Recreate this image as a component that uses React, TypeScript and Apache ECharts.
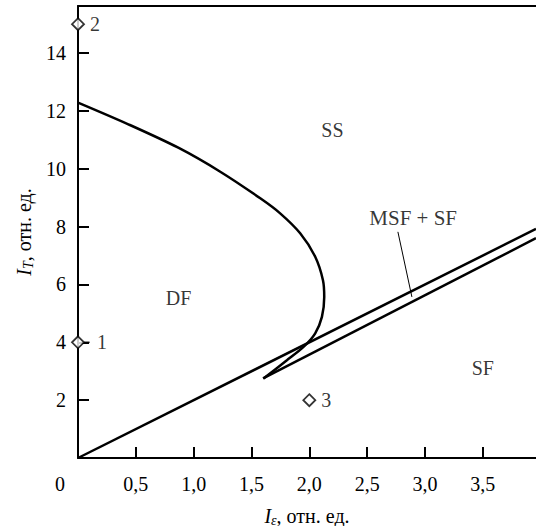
import React, { useEffect, useRef } from 'react';
import * as echarts from 'echarts';

const FONT = 'Liberation Serif, DejaVu Serif, serif';

// boundary curve (DF / SS / SF)
const boundaryCurve: [number, number][] = [
  [0, 12.29], [0.435, 11.54], [0.867, 10.73], [1.23, 9.9], [1.576, 8.98],
  [1.748, 8.46], [1.921, 7.77], [2.051, 6.96], [2.118, 6.15], [2.129, 5.57],
  [2.109, 4.88], [2.051, 4.31], [1.95, 3.84], [1.806, 3.38], [1.604, 2.75],
];
const lineUpper: [number, number][] = [[0, 0], [3.96, 7.92]];
const lineLower: [number, number][] = [[1.6, 2.75], [3.96, 7.6]];
const leaderMSF: [number, number][] = [[2.766, 7.82], [2.887, 5.57]];
const leaderPoint1: [number, number][] = [[0.054, 4], [0.1, 4]];

const pointNames = ['1', '2', '3'];
const pointX = [0, 0, 2];
const pointY = [4, 15, 2];

const regionNames = ['SS', 'DF', 'SF', 'MSF + SF'];
const regionX = [2.2, 0.87, 3.5, 2.898];
const regionY = [11.34, 5.52, 3.1, 8.3];

const xTickValues = [0, 0.5, 1, 1.5, 2, 2.5, 3, 3.5];
const xTickLabels = ['0', '0,5', '1,0', '1,5', '2,0', '2,5', '3,0', '3,5'];
const yTickValues = [2, 4, 6, 8, 10, 12, 14];
const yTickLabels = ['2', '4', '6', '8', '10', '12', '14'];

const X_MAX = 3.96;
const Y_MAX = 15.63;

export default function App() {
  const ref = useRef<HTMLDivElement>(null);
  useEffect(() => {
    if (!ref.current) return;
    const chart = echarts.init(ref.current, null, { renderer: 'svg' });
    const black = '#000';
    const baseText = { fontFamily: FONT, fontSize: 20, color: black };
    const nameRich = {
      it: { ...baseText, fontStyle: 'italic' },
      sub: { ...baseText, fontSize: 14, fontStyle: 'italic', padding: [9, 0, 0, 0] },
      n: { ...baseText },
    };
    chart.setOption({
      animation: false,
      backgroundColor: '#fff',
      textStyle: { fontFamily: FONT },
      grid: {
        left: 78,
        right: 0,
        top: 6,
        bottom: 68,
        containLabel: false,
        outerBoundsMode: 'none',
      },
      xAxis: [
        {
          type: 'value',
          min: 0,
          max: X_MAX,
          interval: 0.5,
          splitLine: { show: false },
          axisLine: { lineStyle: { color: black, width: 2 } },
          axisTick: {
            inside: true,
            length: 11,
            customValues: xTickValues.slice(1),
            lineStyle: { color: black, width: 2 },
          },
          axisLabel: {
            ...baseText,
            margin: 16,
            customValues: xTickValues,
            formatter: (v: number) => {
              const i = xTickValues.findIndex((t) => Math.abs(t - v) < 1e-6);
              if (i < 0) return '';
              return i === 0 ? '{z|' + xTickLabels[i] + '}' : xTickLabels[i];
            },
            rich: { z: { ...baseText, padding: [0, 36, 0, 0] } },
          },
          name: '{it|I}{sub|ε}{n|, отн. ед.}',
          nameLocation: 'middle',
          nameGap: 46,
          nameTextStyle: { ...baseText, rich: nameRich },
        },
        {
          type: 'value',
          position: 'top',
          min: 0,
          max: X_MAX,
          splitLine: { show: false },
          axisLine: { show: true, lineStyle: { color: black, width: 2 } },
          axisTick: { show: false },
          axisLabel: { show: false },
        },
      ],
      yAxis: {
        type: 'value',
        min: 0,
        max: Y_MAX,
        interval: 2,
        splitLine: { show: false },
        axisLine: { lineStyle: { color: black, width: 2 } },
        axisTick: {
          inside: true,
          length: 11,
          customValues: yTickValues,
          lineStyle: { color: black, width: 2 },
        },
        axisLabel: {
          ...baseText,
          margin: 12,
          customValues: yTickValues,
          formatter: (v: number) => {
            const i = yTickValues.findIndex((t) => Math.abs(t - v) < 1e-6);
            return i < 0 ? '' : yTickLabels[i];
          },
        },
        name: '{it|I}{sub|T}{n|, отн. ед.}',
        nameLocation: 'middle',
        nameGap: 43,
        nameTextStyle: { ...baseText, rich: nameRich },
      },
      series: [
        {
          type: 'line',
          data: boundaryCurve,
          smooth: 0.3,
          symbol: 'none',
          clip: false,
          lineStyle: { color: black, width: 2.5 },
        },
        {
          type: 'line',
          data: lineUpper,
          symbol: 'none',
          clip: false,
          lineStyle: { color: black, width: 2.5 },
        },
        {
          type: 'line',
          data: lineLower,
          symbol: 'none',
          clip: false,
          lineStyle: { color: black, width: 2.5 },
        },
        {
          type: 'line',
          data: leaderMSF,
          symbol: 'none',
          clip: false,
          lineStyle: { color: black, width: 1 },
        },
        {
          type: 'line',
          data: leaderPoint1,
          symbol: 'none',
          clip: false,
          lineStyle: { color: black, width: 1.5 },
        },
        {
          type: 'scatter',
          clip: false,
          z: 5,
          symbol: 'diamond',
          symbolSize: 12,
          itemStyle: { color: '#fff', borderColor: black, borderWidth: 1.8 },
          label: {
            show: true,
            position: 'right',
            distance: 5,
            formatter: '{b}',
            ...baseText,
          },
          data: pointNames.map((n, i) => ({
            name: n,
            value: [pointX[i], pointY[i]],
            label: n === '1' ? { distance: 12 } : undefined,
          })),
        },
        {
          type: 'scatter',
          clip: false,
          symbolSize: 1,
          itemStyle: { color: 'rgba(0,0,0,0)' },
          label: {
            show: true,
            position: 'inside',
            formatter: '{b}',
            ...baseText,
          },
          data: regionNames.map((n, i) => ({
            name: n,
            value: [regionX[i], regionY[i]],
            label: n === 'MSF + SF' ? { fontSize: 21 } : undefined,
          })),
        },
      ],
    });
    return () => chart.dispose();
  }, []);
  return (
    <div
      ref={ref}
      style={{ position: 'fixed', left: 0, top: 0, width: 536, height: 526 }}
    />
  );
}
